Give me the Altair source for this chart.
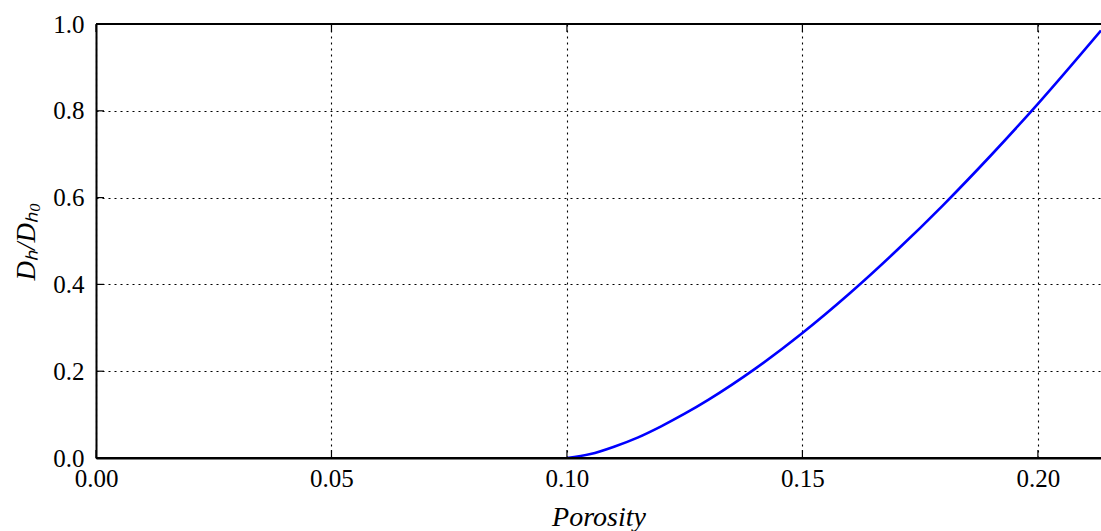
import altair as alt
import pandas as pd

# Data (curve is zero below porosity 0.10)
porosity = [0.10, 0.105, 0.11, 0.115, 0.12, 0.125, 0.13, 0.14, 0.15, 0.16, 0.17, 0.18, 0.19, 0.20, 0.2134]
dh_ratio = [0.0, 0.009, 0.026, 0.047, 0.073, 0.102, 0.134, 0.206, 0.288, 0.379, 0.478, 0.584, 0.697, 0.816, 0.985]
x_ticks = [0.0, 0.05, 0.10, 0.15, 0.20]
y_ticks = [0.0, 0.2, 0.4, 0.6, 0.8, 1.0]

XMAX = 0.2134
FONT = "Liberation Serif"

df = pd.DataFrame({"porosity": porosity, "dh": dh_ratio})
xt = pd.DataFrame({"t": x_ticks})
yt = pd.DataFrame({"t": y_ticks})

xscale = alt.Scale(domain=[0, XMAX], nice=False, zero=False)
yscale = alt.Scale(domain=[0, 1], nice=False)

line = alt.Chart(df).mark_line(color="#0000ff", strokeWidth=2.6, clip=True,
                               interpolate="monotone").encode(
    x=alt.X("porosity:Q", scale=xscale,
            axis=alt.Axis(values=x_ticks, format=".2f", title="Porosity",
                          titleFontStyle="italic", titleFontWeight="normal",
                          titleFontSize=28, titlePadding=12,
                          labelFontSize=25, labelPadding=8, tickSize=0,
                          labelFlush=False,
                          domainColor="black", domainWidth=2,
                          grid=True, gridColor="black", gridDash=[2, 4], gridWidth=1.1,
                          labelColor="black", titleColor="black")),
    y=alt.Y("dh:Q", scale=yscale,
            axis=alt.Axis(values=y_ticks, format=".1f", title="Dₕ/Dₕ₀",
                          titleFontStyle="italic", titleFontWeight="normal",
                          titleFontSize=27, titlePadding=12,
                          labelFontSize=25, labelPadding=12, tickSize=0,
                          labelFlush=False,
                          domainColor="black", domainWidth=2,
                          grid=True, gridColor="black", gridDash=[2, 4], gridWidth=1.1,
                          labelColor="black", titleColor="black")),
)

frame = alt.Chart(yt).transform_filter("datum.t == 1 || datum.t == 0").mark_rule(
    color="black", strokeWidth=2).encode(
    y=alt.Y("t:Q", scale=yscale), x=alt.value(0), x2=alt.value(1005)
)

bottom_ticks = alt.Chart(xt).mark_rule(color="black", strokeWidth=1.2).encode(
    x=alt.X("t:Q", scale=xscale), y=alt.value(434), y2=alt.value(426)
)
top_ticks = alt.Chart(xt).mark_rule(color="black", strokeWidth=1.2).encode(
    x=alt.X("t:Q", scale=xscale), y=alt.value(0), y2=alt.value(8)
)
left_ticks = alt.Chart(yt).mark_rule(color="black", strokeWidth=1.2).encode(
    y=alt.Y("t:Q", scale=yscale), x=alt.value(0), x2=alt.value(8)
)

chart = alt.layer(line, bottom_ticks, top_ticks, left_ticks, frame).properties(
    width=1005, height=434,
    autosize=alt.AutoSizeParams(type="none"),
    padding={"left": 96, "top": 24, "right": 0, "bottom": 73},
).configure_view(stroke=None).configure(font=FONT).configure_axis(
    labelFont=FONT, titleFont=FONT
)

chart.save("out.html", embed_options={"renderer": "svg", "actions": False})
